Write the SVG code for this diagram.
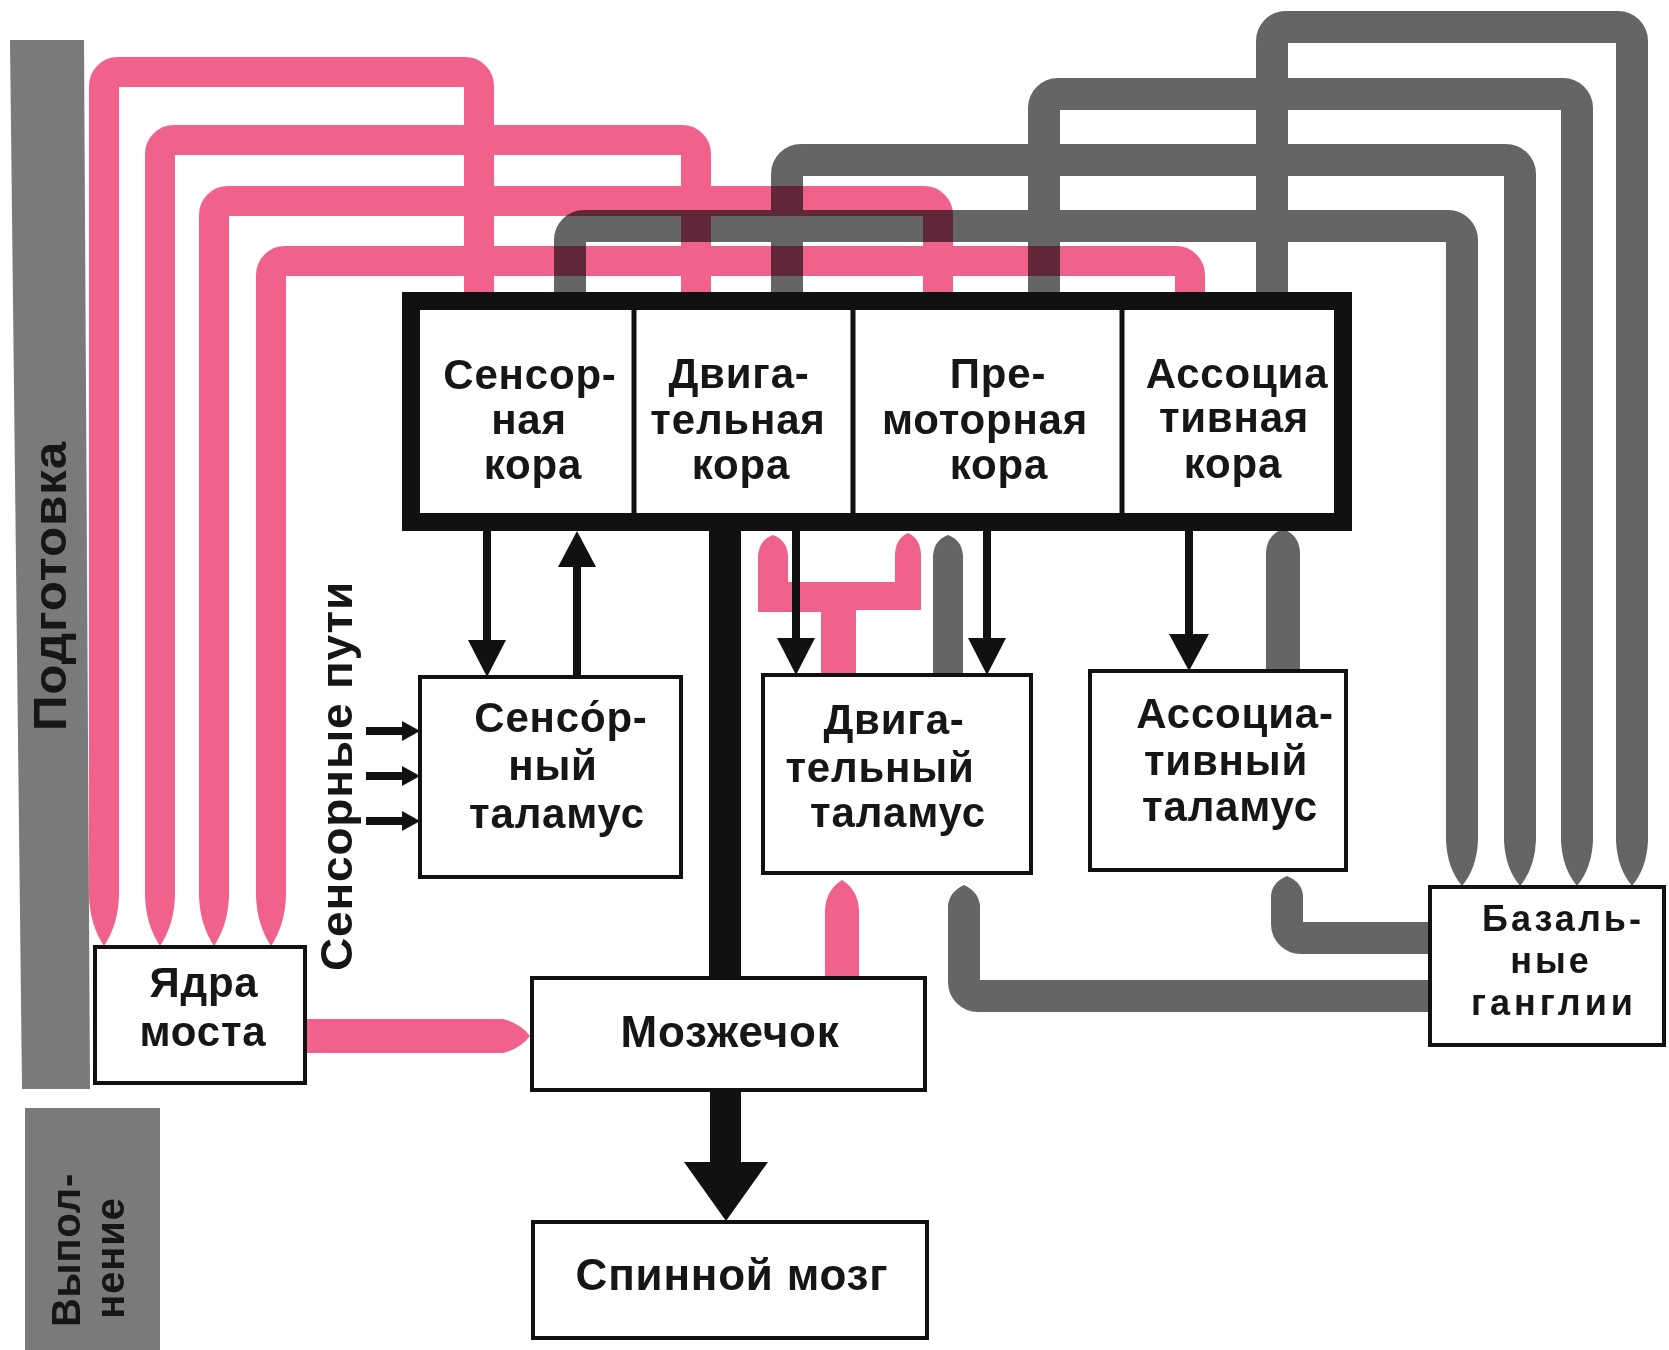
<svg xmlns="http://www.w3.org/2000/svg" width="1669" height="1350" viewBox="0 0 1669 1350">
<style>
.t{font-family:"Liberation Sans",Arial,sans-serif;font-weight:700;font-size:42px;letter-spacing:0.8px;fill:#161616;text-anchor:middle}
.box{fill:#fff;stroke:#111;stroke-width:4}
.pk{fill:none;stroke:#F0628B;stroke-width:30}
.pkf{fill:#F0628B}
.gr{fill:none;stroke:#656565;stroke-width:32}
.grf{fill:#656565}
.ar{stroke:#111;stroke-width:8;fill:none}
.ah{fill:#111}
.bar{fill:#7a7a7a}
</style>
<rect width="1669" height="1350" fill="#fff"/>
<g id="bar-prep">
<polygon class="bar" points="10,40 84,40 90,1089 22,1089"/>
<text class="t" style="font-size:46px" textLength="290" lengthAdjust="spacingAndGlyphs" transform="translate(66,586) rotate(-90)">Подготовка</text>
</g>
<g id="bar-exec">
<rect class="bar" x="25" y="1108" width="135" height="242"/>
<text class="t" style="font-size:40px" transform="translate(80,1250) rotate(-90)">Выпол-</text>
<text class="t" style="font-size:40px" transform="translate(124,1258) rotate(-90)">нение</text>
</g>
<g id="connectors">
<g id="pink">
<path class="pk" d="M479,298 V86 A14,14 0 0 0 465,72 H118 A14,14 0 0 0 104,86 V897"/>
<path class="pk" d="M696,298 V154 A14,14 0 0 0 682,140 H174 A14,14 0 0 0 160,154 V897"/>
<path class="pk" d="M938,298 V215 A14,14 0 0 0 924,201 H228 A14,14 0 0 0 214,215 V897"/>
<path class="pk" d="M1190,298 V275 A14,14 0 0 0 1176,261 H285 A14,14 0 0 0 271,275 V897"/>
<path class="pkf" d="M89,896 Q90,925 104,946 Q118,925 119,896 Z"/>
<path class="pkf" d="M145,896 Q146,925 160,946 Q174,925 175,896 Z"/>
<path class="pkf" d="M199,896 Q200,925 214,946 Q228,925 229,896 Z"/>
<path class="pkf" d="M256,896 Q257,925 271,946 Q285,925 286,896 Z"/>
<path class="pkf" d="M307,1019 H503 Q520,1023 530,1036 Q520,1049 503,1053 H307 Z"/>
<path class="pkf" d="M825,978 V910 Q826,890 842,880 Q858,890 859,910 V978 Z"/>
<path class="pkf" d="M758,612 V556 Q759,540 773,535 Q787,540 788,556 V582 H895 V554 Q896,538 908,533 Q920,538 921,554 V610 H856 V673 H821 V612 Z"/>
</g>
<g id="gray" style="mix-blend-mode:multiply">
<path class="gr" d="M1632,842 V41 A14,14 0 0 0 1618,27 H1286 A14,14 0 0 0 1272,41 V298"/>
<path class="gr" d="M1577,842 V108 A14,14 0 0 0 1563,94 H1058 A14,14 0 0 0 1044,108 V298"/>
<path class="gr" d="M1520,842 V174 A14,14 0 0 0 1506,160 H801 A14,14 0 0 0 787,174 V298"/>
<path class="gr" d="M1462,842 V240 A14,14 0 0 0 1448,226 H584 A14,14 0 0 0 570,240 V298"/>
<path class="grf" d="M1616,840 Q1617,868 1632,886 Q1647,868 1648,840 Z"/>
<path class="grf" d="M1561,840 Q1562,868 1577,886 Q1592,868 1593,840 Z"/>
<path class="grf" d="M1504,840 Q1505,868 1520,886 Q1535,868 1536,840 Z"/>
<path class="grf" d="M1446,840 Q1447,868 1462,886 Q1477,868 1478,840 Z"/>
<path class="grf" d="M933,673 V556 Q934,540 948,535 Q962,540 963,556 V673 Z"/>
<path class="grf" d="M1266,670 V552 Q1267,535 1283,529 Q1299,535 1300,552 V670 Z"/>
<path class="gr" d="M1432,996 H978 A14,14 0 0 1 964,982 V905"/>
<path class="grf" d="M948,906 Q949,892 964,885 Q979,892 980,906 Z"/>
<path class="gr" d="M1432,938 H1301 A14,14 0 0 1 1287,924 V895"/>
<path class="grf" d="M1271,896 Q1272,882 1287,876 Q1302,882 1303,896 Z"/>
</g>
<g id="black-arrows">
<rect class="ah" x="709" y="528" width="32" height="452"/>
<rect class="ah" x="710" y="1088" width="31" height="76"/>
<polygon class="ah" points="684,1162 768,1162 726,1221"/>
<line class="ar" x1="487" y1="530" x2="487" y2="645"/>
<polygon class="ah" points="468,640 506,640 487,677"/>
<line class="ar" x1="577" y1="677" x2="577" y2="562"/>
<polygon class="ah" points="558,567 596,567 577,531"/>
<line class="ar" x1="796" y1="530" x2="796" y2="643"/>
<polygon class="ah" points="777,638 815,638 796,675"/>
<line class="ar" x1="987" y1="530" x2="987" y2="643"/>
<polygon class="ah" points="968,638 1006,638 987,675"/>
<line class="ar" x1="1189" y1="530" x2="1189" y2="639"/>
<polygon class="ah" points="1169,634 1209,634 1189,671"/>
<line class="ar" x1="366" y1="731" x2="406" y2="731"/>
<polygon class="ah" points="402,721 402,741 420,731"/>
<line class="ar" x1="366" y1="776" x2="406" y2="776"/>
<polygon class="ah" points="402,766 402,786 420,776"/>
<line class="ar" x1="366" y1="821" x2="406" y2="821"/>
<polygon class="ah" points="402,811 402,831 420,821"/>
</g>
</g>
<g id="label-sensory-paths">
<text class="t" style="font-size:44px" textLength="390" lengthAdjust="spacingAndGlyphs" transform="translate(352,776) rotate(-90)">Сенсорные пути</text>
</g>
<g id="cortex">
<rect x="411" y="301" width="932" height="221" fill="#fff" stroke="#111" stroke-width="18"/>
<line x1="634" y1="305" x2="634" y2="518" stroke="#111" stroke-width="5"/>
<line x1="853" y1="305" x2="853" y2="518" stroke="#111" stroke-width="5"/>
<line x1="1122" y1="305" x2="1122" y2="518" stroke="#111" stroke-width="5"/>
</g>
<g id="sensory-cortex">
<text class="t" x="530" y="389">Сенсор-</text>
<text class="t" x="529" y="434">ная</text>
<text class="t" x="533" y="479">кора</text>
</g>
<g id="motor-cortex">
<text class="t" x="739" y="388">Двига-</text>
<text class="t" x="738" y="434">тельная</text>
<text class="t" x="741" y="479">кора</text>
</g>
<g id="premotor-cortex">
<text class="t" x="998" y="388">Пре-</text>
<text class="t" x="985" y="434">моторная</text>
<text class="t" x="999" y="479">кора</text>
</g>
<g id="assoc-cortex">
<text class="t" x="1237" y="388">Ассоциа</text>
<text class="t" x="1234" y="432">тивная</text>
<text class="t" x="1233" y="478">кора</text>
</g>
<g id="sensory-thalamus">
<rect class="box" x="420" y="677" width="261" height="200"/>
<text class="t" x="561" y="732">Сенсо́р-</text>
<text class="t" x="553" y="780">ный</text>
<text class="t" x="557" y="828">таламус</text>
</g>
<g id="motor-thalamus">
<rect class="box" x="763" y="675" width="268" height="198"/>
<text class="t" x="894" y="734">Двига-</text>
<text class="t" x="880" y="782">тельный</text>
<text class="t" x="898" y="827">таламус</text>
</g>
<g id="assoc-thalamus">
<rect class="box" x="1090" y="671" width="256" height="199"/>
<text class="t" x="1235" y="728">Ассоциа-</text>
<text class="t" x="1226" y="775">тивный</text>
<text class="t" x="1230" y="821">таламус</text>
</g>
<g id="basal-ganglia">
<rect class="box" x="1430" y="887" width="234" height="158"/>
<text class="t" x="1563" y="931" style="font-size:36px;letter-spacing:3px">Базаль-</text>
<text class="t" x="1551" y="973" style="font-size:36px;letter-spacing:3px">ные</text>
<text class="t" x="1554" y="1015" style="font-size:36px;letter-spacing:4px">ганглии</text>
</g>
<g id="pons">
<rect class="box" x="95" y="947" width="210" height="136"/>
<text class="t" x="204" y="997">Ядра</text>
<text class="t" x="203" y="1046">моста</text>
</g>
<g id="cerebellum">
<rect class="box" x="532" y="978" width="393" height="112"/>
<text class="t" x="730" y="1047" style="font-size:44px">Мозжечок</text>
</g>
<g id="spinal-cord">
<rect class="box" x="533" y="1222" width="394" height="116"/>
<text class="t" x="732" y="1290" style="font-size:44px">Спинной мозг</text>
</g>
</svg>
